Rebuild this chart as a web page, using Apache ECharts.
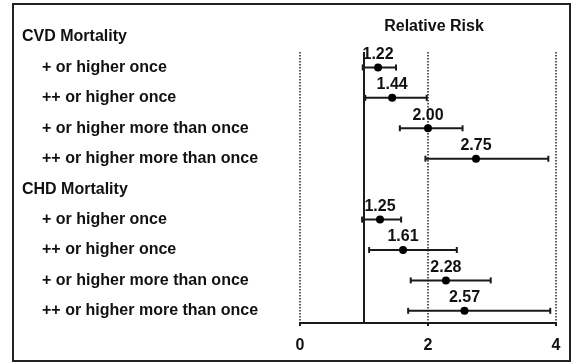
<!DOCTYPE html>
<html><head><meta charset="utf-8">
<script src="https://cdn.jsdelivr.net/npm/echarts@6/dist/echarts.min.js"></script>
<style>html,body{margin:0;padding:0;background:#fff}#c{width:573px;height:364px}</style>
</head><body><div id="c"></div>
<script>
// Row labels (index 0 and 5 are group headers)
const rowLabels = [
  'CVD Mortality',
  '+ or higher once',
  '++ or higher once',
  '+ or higher more than once',
  '++ or higher more than once',
  'CHD Mortality',
  '+ or higher once',
  '++ or higher once',
  '+ or higher more than once',
  '++ or higher more than once'
];
const headerRows = [0, 5];
// Data rows (row index into rowLabels)
const dataRows = [1, 2, 3, 4, 6, 7, 8, 9];
const relRisk  = [1.22, 1.44, 2.00, 2.75, 1.25, 1.61, 2.28, 2.57];
const ciLow    = [0.98, 1.02, 1.56, 1.96, 0.97, 1.08, 1.73, 1.69];
const ciHigh   = [1.50, 1.98, 2.54, 3.88, 1.58, 2.45, 2.98, 3.91];
const xTicks   = [0, 2, 4];
const refValue = 1;
const axisTitle = 'Relative Risk';

const font = 'Liberation Sans, Arial, sans-serif';
const txt = '#111';
const chart = echarts.init(document.getElementById('c'));

const pointData = dataRows.map((r, i) => [relRisk[i], r]);
const ciData = dataRows.map((r, i) => [ciLow[i], ciHigh[i], r]);

chart.setOption({
  animation: false,
  backgroundColor: '#fff',
  title: {
    text: axisTitle, left: 429, top: 14, textAlign: 'center',
    textStyle: {fontFamily: font, fontSize: 16, fontWeight: 'bold', color: txt}
  },
  graphic: [{
    type: 'rect', shape: {x: 13, y: 4, width: 557, height: 357},
    style: {fill: 'none', stroke: '#222', lineWidth: 2}, silent: true, z: 100
  }],
  grid: [
    {left: 300, right: 17, top: 37, bottom: 41, containLabel: false},
    {left: 300, right: 17, top: 52, bottom: 41, containLabel: false}
  ],
  xAxis: [
    {gridIndex: 0, type: 'value', min: 0, max: 4, interval: 2,
     axisLine: {show: false}, axisTick: {show: false}, axisLabel: {show: false}, splitLine: {show: false}},
    {gridIndex: 1, type: 'value', min: 0, max: 4, interval: 2,
     axisLine: {show: true, lineStyle: {color: '#1a1a1a', width: 2}},
     axisTick: {show: true, length: 3, lineStyle: {color: '#1a1a1a', width: 2}},
     axisLabel: {show: true, margin: 15, fontFamily: font, fontSize: 16, fontWeight: 'bold', color: txt,
       formatter: v => xTicks.includes(v) ? String(v) : ''},
     splitLine: {show: true, lineStyle: {color: '#222', type: [1.5, 1.5], width: 1.5}}}
  ],
  yAxis: [
    {gridIndex: 0, type: 'value', inverse: true, min: 0, max: 9.4, interval: 1,
     axisLine: {show: false}, axisTick: {show: false}, splitLine: {show: false},
     axisLabel: {
       show: true, align: 'left', margin: 278, showMaxLabel: false,
       formatter: v => {
         if (!Number.isInteger(v) || v < 0 || v >= rowLabels.length) return '';
         return headerRows.includes(v) ? '{h|' + rowLabels[v] + '}' : '{i|' + rowLabels[v] + '}';
       },
       rich: {
         h: {fontFamily: font, fontSize: 16, fontWeight: 'bold', color: txt},
         i: {fontFamily: font, fontSize: 16, fontWeight: 'bold', color: txt, padding: [0, 0, 0, 20]}
       }
     }},
    {gridIndex: 1, type: 'value', min: 0, max: 1, show: false,
     axisLine: {show: false}, splitLine: {show: false}}
  ],
  series: [
    {
      type: 'line', xAxisIndex: 1, yAxisIndex: 1, data: [], silent: true,
      markLine: {
        symbol: 'none', silent: true, label: {show: false},
        lineStyle: {color: '#1a1a1a', type: 'solid', width: 2},
        data: [{xAxis: refValue}]
      }
    },
    {
      type: 'custom', xAxisIndex: 0, yAxisIndex: 0, data: ciData, z: 3,
      renderItem: (params, api) => {
        const a = api.coord([api.value(0), api.value(2)]);
        const b = api.coord([api.value(1), api.value(2)]);
        const h = 3;
        const st = {stroke: '#1a1a1a', lineWidth: 2};
        return {type: 'group', children: [
          {type: 'line', shape: {x1: a[0], y1: a[1], x2: b[0], y2: b[1]}, style: st},
          {type: 'line', shape: {x1: a[0], y1: a[1] - h, x2: a[0], y2: a[1] + h}, style: st},
          {type: 'line', shape: {x1: b[0], y1: b[1] - h, x2: b[0], y2: b[1] + h}, style: st}
        ]};
      }
    },
    {
      type: 'scatter', xAxisIndex: 0, yAxisIndex: 0, data: pointData, z: 4,
      symbol: 'circle', symbolSize: 8, itemStyle: {color: '#000', opacity: 1},
      label: {show: true, position: 'top', distance: 1,
        formatter: p => p.value[0].toFixed(2),
        fontFamily: font, fontSize: 16, fontWeight: 'bold', color: txt}
    }
  ]
});
</script></body></html>
